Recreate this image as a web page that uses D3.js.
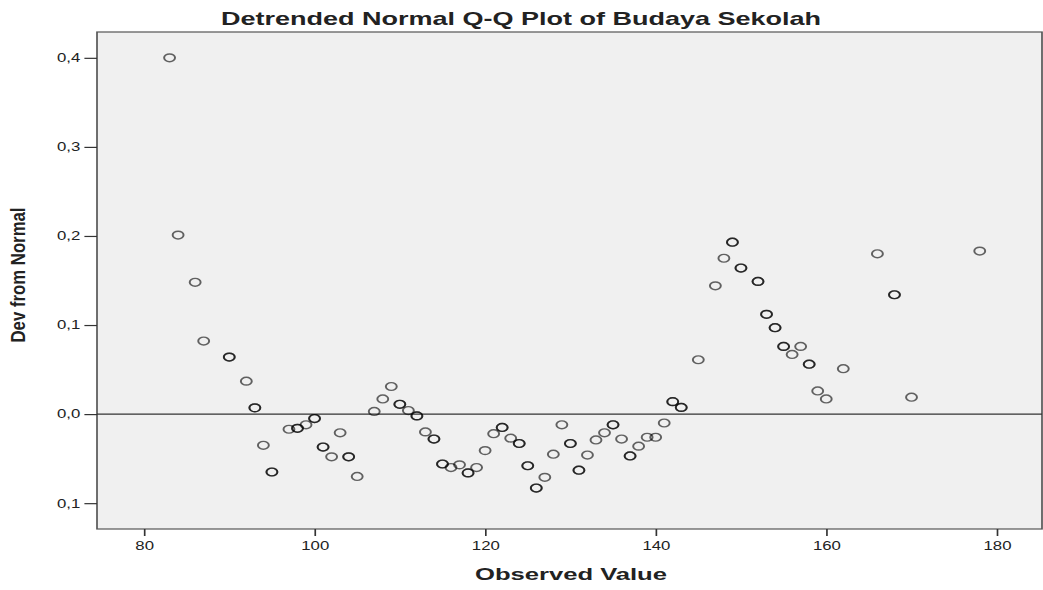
<!DOCTYPE html>
<html>
<head>
	<script src="https://cdn.jsdelivr.net/npm/d3@7"></script>
	<style>
		html, body {
			padding: 0;
			margin: 0;
			background: white;
		}
		text {
			font-family: "Liberation Sans", Arial, sans-serif;
			fill: #222;
		}
	</style>
</head>
<body>
	<div id="chart"></div>

	<script>
		// observed values, deviation from normal, and how many cases sit on the same spot
		var observed = [83, 84, 86, 87, 90, 92, 93, 94, 95, 97, 98, 99, 100, 101, 102, 103, 104, 105,
			107, 108, 109, 110, 111, 112, 113, 114, 115, 116, 117, 118, 119, 120, 121, 122, 123, 124,
			125, 126, 127, 128, 129, 130, 131, 132, 133, 134, 135, 136, 137, 138, 139, 140, 141, 142,
			143, 145, 147, 148, 149, 150, 152, 153, 154, 155, 156, 157, 158, 159, 160, 162, 166, 168,
			170, 178];
		var devFromNormal = [0.400, 0.201, 0.148, 0.082, 0.064, 0.037, 0.007, -0.035, -0.065, -0.017,
			-0.016, -0.012, -0.005, -0.037, -0.048, -0.021, -0.048, -0.070, 0.003, 0.017, 0.031, 0.011,
			0.004, -0.002, -0.020, -0.028, -0.056, -0.060, -0.057, -0.066, -0.060, -0.041, -0.022, -0.015,
			-0.027, -0.033, -0.058, -0.083, -0.071, -0.045, -0.012, -0.033, -0.063, -0.046, -0.029, -0.021,
			-0.012, -0.028, -0.047, -0.036, -0.026, -0.026, -0.010, 0.014, 0.0075, 0.061, 0.144, 0.175,
			0.193, 0.164, 0.149, 0.112, 0.097, 0.076, 0.067, 0.076, 0.056, 0.026, 0.017, 0.051, 0.180,
			0.134, 0.019, 0.183];
		var cases = [1, 1, 1, 1, 2, 1, 2, 1, 2, 1, 2, 1, 2, 2, 1, 1, 2, 1,
			1, 1, 1, 2, 1, 2, 1, 2, 2, 1, 1, 2, 1, 1, 1, 2, 1, 2,
			2, 2, 1, 1, 1, 2, 2, 1, 1, 1, 2, 1, 2, 1, 1, 1, 1, 2,
			2, 1, 1, 1, 2, 2, 2, 2, 2, 2, 1, 1, 2, 1, 1, 1, 1, 2,
			1, 1];

		var xTicks = [80, 100, 120, 140, 160, 180];
		var yTicks = [0.4, 0.3, 0.2, 0.1, 0.0, -0.1];
		var yTickLabels = ["0,4", "0,3", "0,2", "0,1", "0,0", "0,1"];

		// the original picture is stretched sideways, so draw narrow and let the viewBox widen it
		var width = 1043, height = 590, sx = 1.4;
		var W = width / sx;
		var plotLeft = 97 / sx, plotRight = 1042 / sx, plotTop = 32, plotBottom = 529;

		var svg = d3.select("#chart").append("svg")
			.attr("width", width)
			.attr("height", height)
			.attr("viewBox", "0 0 " + W + " " + height)
			.attr("preserveAspectRatio", "none");

		var x = d3.scaleLinear().domain([74.49, 185.3]).range([plotLeft, plotRight]);
		var y = d3.scaleLinear().domain([-0.129, 0.429]).range([plotBottom, plotTop]);

		svg.append("rect")
			.attr("x", plotLeft)
			.attr("y", plotTop)
			.attr("width", plotRight - plotLeft)
			.attr("height", plotBottom - plotTop)
			.style("fill", "#f0f0f0")
			.style("stroke", "#555")
			.style("stroke-width", 1.2);

		var xAxis = svg.append("g")
			.attr("transform", "translate(0," + plotBottom + ")")
			.call(d3.axisBottom(x).tickValues(xTicks).tickSize(7).tickPadding(5));
		var yAxis = svg.append("g")
			.attr("transform", "translate(" + plotLeft + ",0)")
			.call(d3.axisLeft(y).tickValues(yTicks).tickSize(9).tickPadding(3)
				.tickFormat(function(d, i) { return yTickLabels[i]; }));

		[xAxis, yAxis].forEach(function(g) {
			g.select(".domain").remove();
			g.selectAll(".tick line").style("stroke", "#333").style("stroke-width", 1.2);
			g.selectAll(".tick text").style("font-size", "12px").style("fill", "#222");
		});

		// reference line at zero
		svg.append("line")
			.attr("x1", plotLeft).attr("x2", plotRight)
			.attr("y1", y(0)).attr("y2", y(0))
			.style("stroke", "#333")
			.style("stroke-width", 1.3);

		var points = [];
		observed.forEach(function(v, i) {
			for (var k = 0; k < cases[i]; k++) points.push({x: v, y: devFromNormal[i]});
		});

		svg.append("g").selectAll("circle")
			.data(points)
			.enter().append("circle")
			.attr("cx", function(d) { return x(d.x); })
			.attr("cy", function(d) { return y(d.y); })
			.attr("r", 3.9)
			.style("fill", "none")
			.style("stroke", "#000")
			.style("stroke-opacity", 0.6)
			.style("stroke-width", 1.4);

		svg.append("text")
			.attr("x", 521 / sx)
			.attr("y", 25)
			.attr("text-anchor", "middle")
			.attr("textLength", 600 / sx)
			.attr("lengthAdjust", "spacingAndGlyphs")
			.style("font-size", "18px")
			.style("font-weight", "bold")
			.text("Detrended Normal Q-Q Plot of Budaya Sekolah");

		svg.append("text")
			.attr("x", 571 / sx)
			.attr("y", 580)
			.attr("text-anchor", "middle")
			.attr("textLength", 192 / sx)
			.attr("lengthAdjust", "spacingAndGlyphs")
			.style("font-size", "16px")
			.style("font-weight", "bold")
			.text("Observed Value");

		svg.append("text")
			.attr("transform", "translate(" + (25 / sx) + ",275) rotate(-90)")
			.attr("text-anchor", "middle")
			.attr("textLength", 135)
			.attr("lengthAdjust", "spacingAndGlyphs")
			.style("font-size", "15px")
			.style("font-weight", "bold")
			.text("Dev from Normal");
	</script>
</body>
</html>
